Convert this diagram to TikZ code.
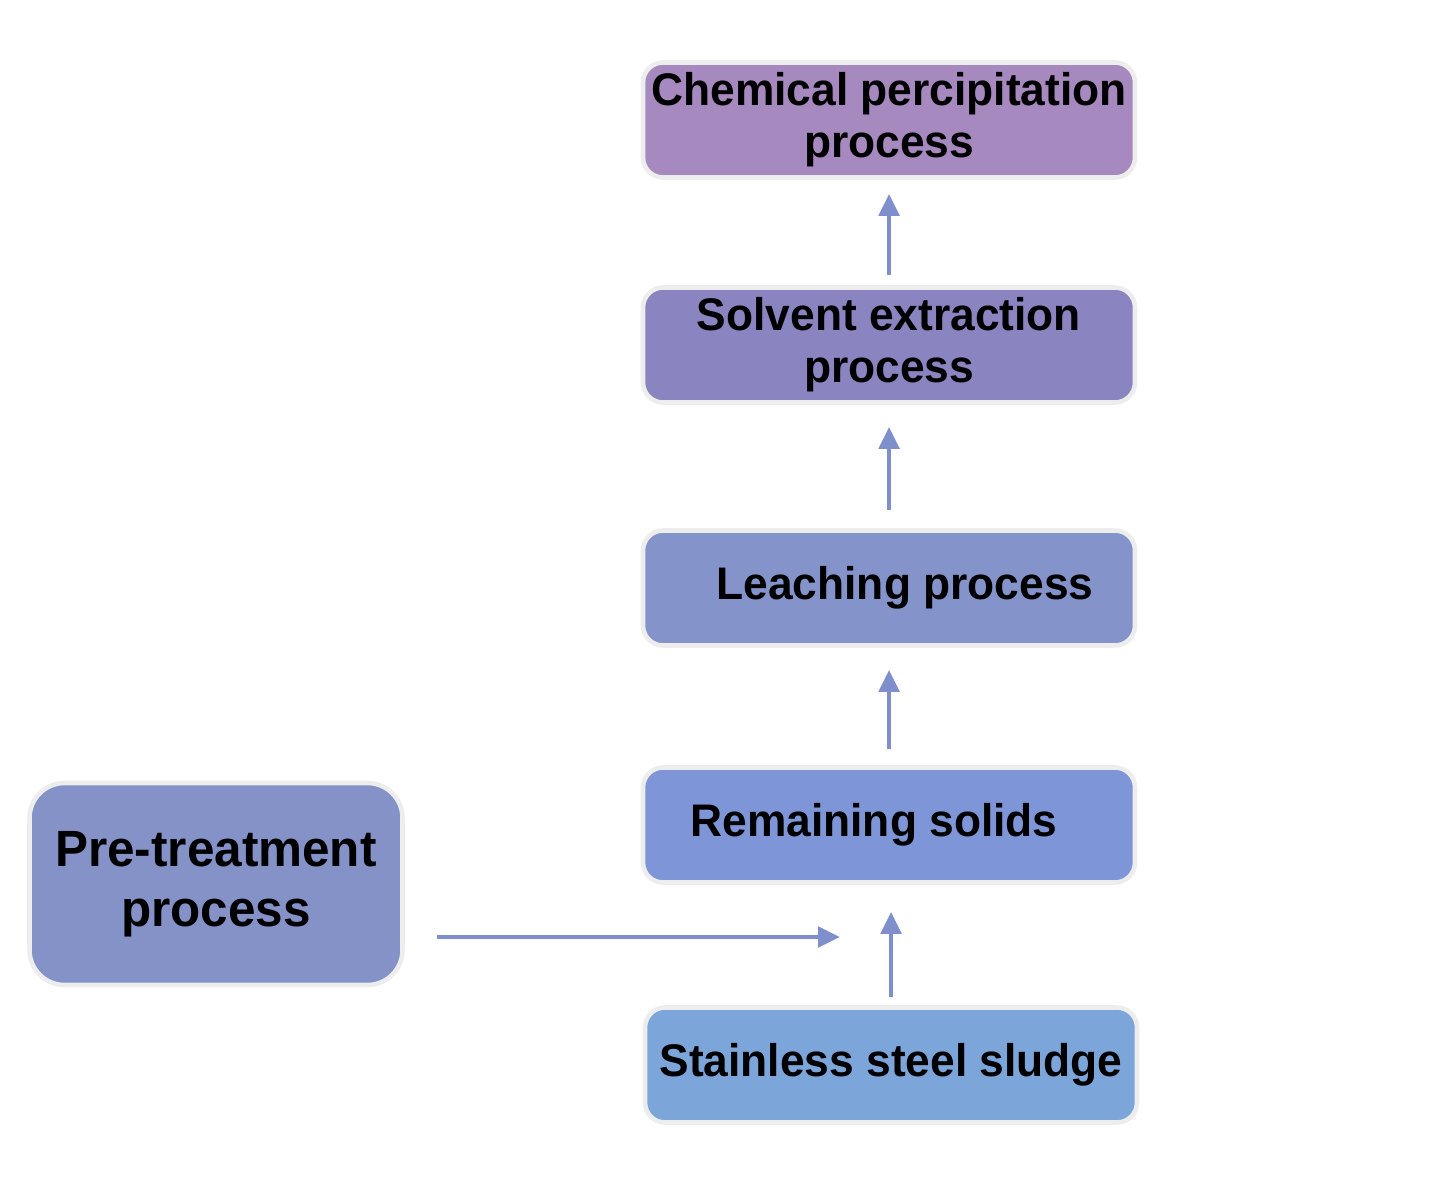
\documentclass[tikz,border=0pt]{standalone}
\usepackage{fontspec}
\setmainfont{Liberation Sans}[FakeStretch=0.97]
\usetikzlibrary{arrows.meta}
\definecolor{chemcol}{HTML}{A689BF}
\definecolor{solvcol}{HTML}{8A84C0}
\definecolor{leachcol}{HTML}{8494CB}
\definecolor{remcol}{HTML}{7E96D8}
\definecolor{sludgecol}{HTML}{7CA5D9}
\definecolor{precol}{HTML}{8492C8}
\definecolor{arrcol}{HTML}{7E8FCB}
\begin{document}
\begin{tikzpicture}[
  procbox/.style={draw=black!7, line width=1.3pt, rounded corners=0.2cm,
    minimum width=4.92cm, minimum height=1.15cm, align=center,
    font=\fontsize{13}{14.8}\selectfont\bfseries, inner sep=0pt},
  flow/.style={draw=arrcol, line width=1.4pt, -{Triangle[length=0.22cm,width=0.2cm]}}]
\useasboundingbox (0,0) rectangle (14.56,11.95);
\node[procbox, fill=chemcol] (chem) at (8.89,10.75) {Chemical percipitation\\process};
\node[procbox, fill=solvcol] (solv) at (8.89,8.50) {Solvent extraction\\process};
\node[procbox, fill=leachcol] (leach) at (8.89,6.07) {\hspace*{0.32cm}Leaching process};
\node[procbox, fill=remcol] (rem) at (8.89,3.70) {Remaining solids\hspace*{0.3cm}};
\node[procbox, fill=sludgecol] (sludge) at (8.91,1.30) {Stainless steel sludge};
\node[procbox, fill=precol, rounded corners=0.35cm, minimum width=3.73cm,
  minimum height=2.02cm, font=\fontsize{14.5}{17}\selectfont\bfseries] (pre) at (2.16,3.11) {Pre-treatment\\process};
\coordinate (joint) at (8.40,2.58);
\path[flow, shorten <=0.1cm, shorten >=0.14cm] (solv.north) -- (chem.south);
\path[flow, shorten <=0.18cm, shorten >=0.22cm] (leach.north) -- (solv.south);
\path[flow, shorten <=0.16cm, shorten >=0.22cm] (rem.north) -- (leach.south);
\path[flow, shorten <=0.08cm, shorten >=0.27cm] (sludge.north) -- ([xshift=0.02cm]rem.south);
\path[flow, shorten <=0.32cm] (pre.east |- joint) -- (joint);
\end{tikzpicture}
\end{document}
